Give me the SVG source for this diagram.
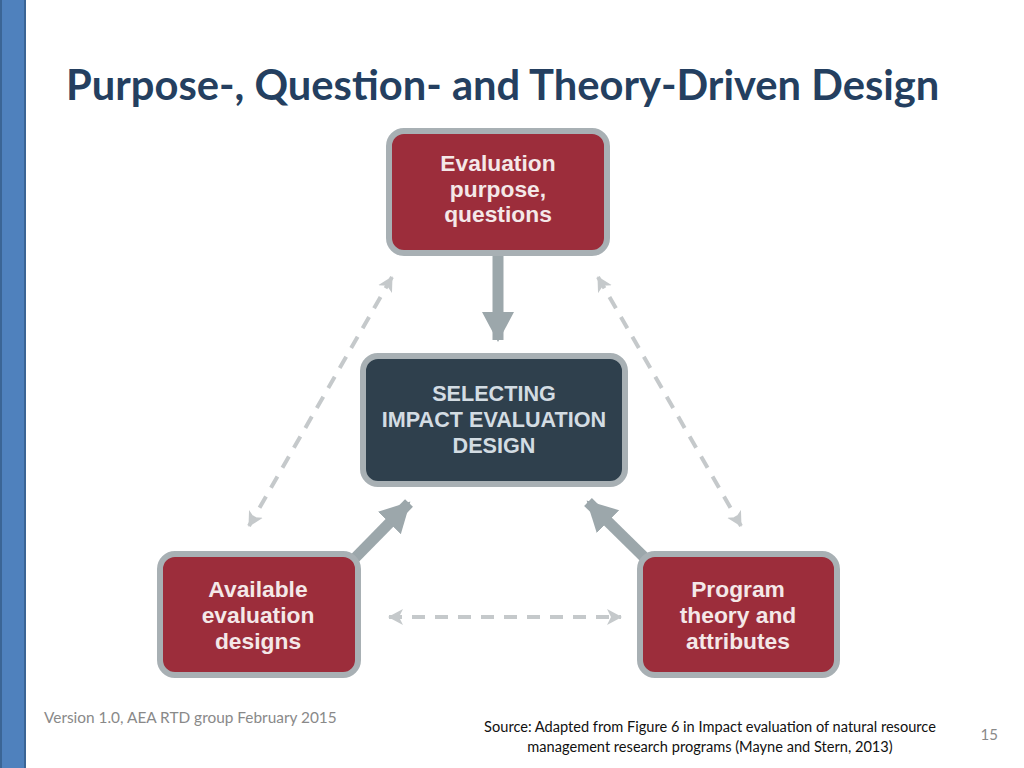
<svg xmlns="http://www.w3.org/2000/svg" width="1024" height="768" viewBox="0 0 1024 768">
<defs>
<style>
.box{stroke:#a8b0b4;stroke-width:6}
.red{fill:#9c2d3b}
.dark{fill:#2f404d}
.lbl{font-family:"Liberation Sans",Arial,sans-serif;font-weight:bold;font-size:22.8px;text-anchor:middle;fill:#f4e8e8}
.lbl2{font-family:"Liberation Sans",Arial,sans-serif;font-weight:bold;font-size:21.6px;text-anchor:middle;fill:#d3dce3}
.solid{stroke:#9ca7ab;stroke-width:11;fill:none}
.dash{stroke:#c5c9cb;stroke-width:4;stroke-dasharray:13 10;fill:none}
.foot{font-family:Lato,"Liberation Sans",sans-serif}
</style>
<marker id="big" markerUnits="userSpaceOnUse" markerWidth="34" markerHeight="34" refX="28" refY="16" orient="auto"><path d="M0,0 L30,16 L0,32 Z" fill="#9ca7ab"/></marker>
<marker id="sm" markerUnits="userSpaceOnUse" markerWidth="18" markerHeight="18" refX="14" refY="8" orient="auto-start-reverse"><path d="M0,0 L15,8 L0,16 L4,8 Z" fill="#c5c9cb"/></marker>
</defs>
<rect x="0" y="0" width="1024" height="768" fill="#ffffff"/>
<rect x="1" y="-2" width="24" height="772" fill="#4f81bd" stroke="#3b6595" stroke-width="2"/>
<text x="66" y="100" font-family="Lato,'Liberation Sans',sans-serif" font-weight="bold" font-size="41.7" fill="#243f60">Purpose-, Question- and Theory-Driven Design</text>
<g id="connectors">
<line class="solid" x1="498" y1="256" x2="498" y2="340" marker-end="url(#big)"/>
<line class="solid" x1="355" y1="558" x2="409" y2="503" marker-end="url(#big)"/>
<line class="solid" x1="645" y1="558" x2="588" y2="502" marker-end="url(#big)"/>
<line class="dash" x1="392" y1="277" x2="249" y2="526" marker-start="url(#sm)" marker-end="url(#sm)"/>
<line class="dash" x1="598" y1="277" x2="741" y2="526" marker-start="url(#sm)" marker-end="url(#sm)"/>
<line class="dash" x1="389" y1="617" x2="621" y2="617" marker-start="url(#sm)" marker-end="url(#sm)"/>
</g>
<g id="node-purpose">
<rect class="box red" x="389" y="131" width="218" height="122" rx="15"/>
<text class="lbl" x="498" y="171">Evaluation</text>
<text class="lbl" x="498" y="197">purpose,</text>
<text class="lbl" x="498" y="222">questions</text>
</g>
<g id="node-select">
<rect class="box dark" x="363" y="356" width="262" height="128" rx="15"/>
<text class="lbl2" x="494" y="401">SELECTING</text>
<text class="lbl2" x="494" y="427">IMPACT EVALUATION</text>
<text class="lbl2" x="494" y="453">DESIGN</text>
</g>
<g id="node-available">
<rect class="box red" x="160" y="554" width="198" height="121" rx="15"/>
<text class="lbl" x="258" y="597">Available</text>
<text class="lbl" x="258" y="623">evaluation</text>
<text class="lbl" x="258" y="649">designs</text>
</g>
<g id="node-program">
<rect class="box red" x="640" y="554" width="197" height="121" rx="15"/>
<text class="lbl" x="738" y="597">Program</text>
<text class="lbl" x="738" y="623">theory and</text>
<text class="lbl" x="738" y="649">attributes</text>
</g>
<text class="foot" x="44" y="723" font-size="15.4" fill="#898989">Version 1.0, AEA RTD group February 2015</text>
<text class="foot" x="710" y="732" font-size="14.6" text-anchor="middle" fill="#111111">Source: Adapted from Figure 6 in Impact evaluation of natural resource</text>
<text class="foot" x="710" y="752" font-size="14.6" text-anchor="middle" fill="#111111">management research programs (Mayne and Stern, 2013)</text>
<text class="foot" x="998" y="740" font-size="15" text-anchor="end" fill="#898989">15</text>
</svg>
